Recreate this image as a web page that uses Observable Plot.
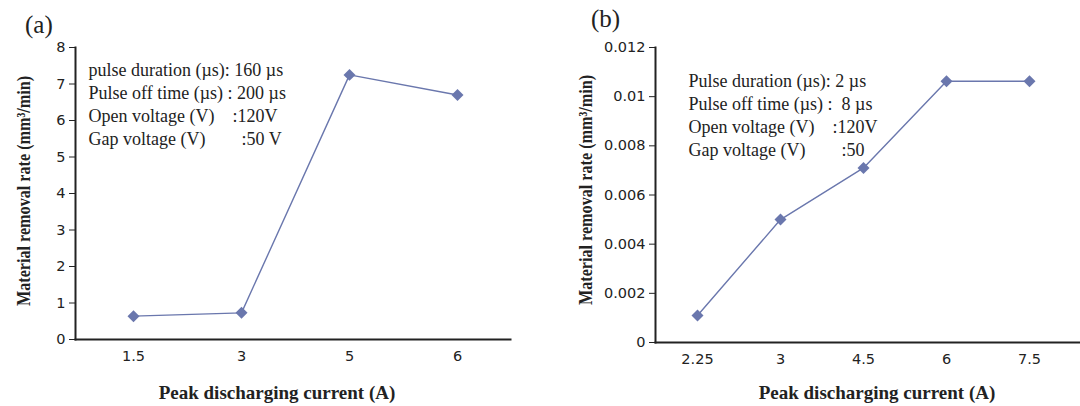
<!DOCTYPE html>
<html>
<head>
<meta charset="utf-8">
<script src="https://cdn.jsdelivr.net/npm/d3@7"></script>
<script src="https://cdn.jsdelivr.net/npm/@observablehq/plot@0.6"></script>
<style>
  html, body { margin: 0; padding: 0; background: #fff; }
  #root { position: relative; width: 1080px; height: 406px; overflow: hidden; background: #fff; }
  .panel { position: absolute; top: 0; }
  .tag { position: absolute; font-family: "Liberation Serif", "Times New Roman", serif; font-size: 25px; color: #222; line-height: 1; }
  .ylab { position: absolute; white-space: nowrap; font-family: "Liberation Serif", "Times New Roman", serif;
          font-weight: bold; font-size: 19px; color: #222; line-height: 1;
          transform: translate(-50%, -50%) rotate(-90deg) scale(0.85, 1); }
  .xlab { position: absolute; white-space: nowrap; font-family: "Liberation Serif", "Times New Roman", serif;
          font-weight: bold; font-size: 19px; color: #222; line-height: 1;
          transform: translate(-50%, -50%); }
  .panel svg g[aria-label="text"] text { font-family: "Liberation Serif", "Times New Roman", serif; font-size: 18px; fill: #222; }
</style>
</head>
<body>
<div id="root">
  <div class="tag" style="left:25px;top:12px;">(a)</div>
  <div class="tag" style="left:591px;top:6px;">(b)</div>
  <div class="panel" id="pa" style="left:0px;"></div>
  <div class="panel" id="pb" style="left:540px;"></div>
  <div class="ylab" id="ya" style="left:23px;top:191px;"></div>
  <div class="ylab" id="yb" style="left:585px;top:190px;"></div>
  <div class="xlab" id="xa" style="left:277px;top:392px;"></div>
  <div class="xlab" id="xb" style="left:877px;top:392px;"></div>
</div>
<script>
// ---- Data ----
const currentsA = ["1.5", "3", "5", "6"];
const mrrA = [0.64, 0.73, 7.25, 6.70];
const yTicksA = [0, 1, 2, 3, 4, 5, 6, 7, 8];
const annotA = [
  "pulse duration (\u00B5s): 160 \u00B5s",
  "Pulse off time (\u00B5s) : 200 \u00B5s",
  "Open voltage (V)\u00A0\u00A0\u00A0\u00A0:120V",
  "Gap voltage (V)\u00A0\u00A0\u00A0\u00A0\u00A0\u00A0\u00A0\u00A0:50 V"
];

const currentsB = ["2.25", "3", "4.5", "6", "7.5"];
const mrrB = [0.0011, 0.0050, 0.0071, 0.01063, 0.01063];
const yTicksB = [0, 0.002, 0.004, 0.006, 0.008, 0.01, 0.012];
const annotB = [
  "Pulse duration (\u00B5s): 2 \u00B5s",
  "Pulse off time (\u00B5s) :\u00A0\u00A08 \u00B5s",
  "Open voltage (V)\u00A0\u00A0\u00A0\u00A0:120V",
  "Gap voltage (V)\u00A0\u00A0\u00A0\u00A0\u00A0\u00A0\u00A0\u00A0:50"
];

const xLabel = "Peak discharging current (A)";
const yLabel = "Material removal rate (mm\u00B3/min)";
const lineColor = "#6a77ad";
const axisColor = "#222";

function panel({currents, values, yDomain, yTicks, yFormat, annot, marginLeft, marginRight, marginBottom, padding, align, annotDx, annotDy}) {
  const data = currents.map((c, i) => ({current: c, mrr: values[i]}));
  return Plot.plot({
    width: 540,
    height: 406,
    marginLeft, marginRight, marginTop: 47, marginBottom,
    style: {fontFamily: "'DejaVu Sans', sans-serif", fontSize: "14.5px", color: axisColor, background: "transparent", overflow: "visible"},
    x: {type: "point", domain: currents, padding, align, label: null, tickSize: 0, tickPadding: 11},
    y: {domain: yDomain, ticks: yTicks, tickFormat: yFormat, tickSize: 6, tickPadding: 4, label: null},
    marks: [
      Plot.frame({anchor: "left", stroke: axisColor, strokeWidth: 2}),
      Plot.frame({anchor: "bottom", stroke: axisColor, strokeWidth: 2}),
      Plot.line(data, {x: "current", y: "mrr", stroke: lineColor, strokeWidth: 1.4}),
      Plot.dot(data, {x: "current", y: "mrr", symbol: "diamond2", r: 5.4, fill: lineColor, stroke: "none"}),
      Plot.text([annot.join("\n")], {frameAnchor: "top-left", textAnchor: "start", lineAnchor: "top", lineHeight: 1.28, dx: annotDx, dy: annotDy, fill: "#222"})
    ]
  });
}

document.getElementById("pa").appendChild(panel({
  currents: currentsA, values: mrrA, yDomain: [0, 8], yTicks: yTicksA, yFormat: d3.format("~g"),
  annot: annotA, marginLeft: 75, marginRight: 30, marginBottom: 67, padding: 0.5, align: 0.52, annotDx: 13, annotDy: 12
}));
document.getElementById("pb").appendChild(panel({
  currents: currentsB, values: mrrB, yDomain: [0, 0.012], yTicks: yTicksB, yFormat: d3.format("~g"),
  annot: annotB, marginLeft: 115, marginRight: 0, marginBottom: 64, padding: 0.55, align: 0.45, annotDx: 33, annotDy: 23
}));
for (const id of ["ya", "yb"]) document.getElementById(id).textContent = yLabel;
for (const id of ["xa", "xb"]) document.getElementById(id).textContent = xLabel;
</script>
</body>
</html>
